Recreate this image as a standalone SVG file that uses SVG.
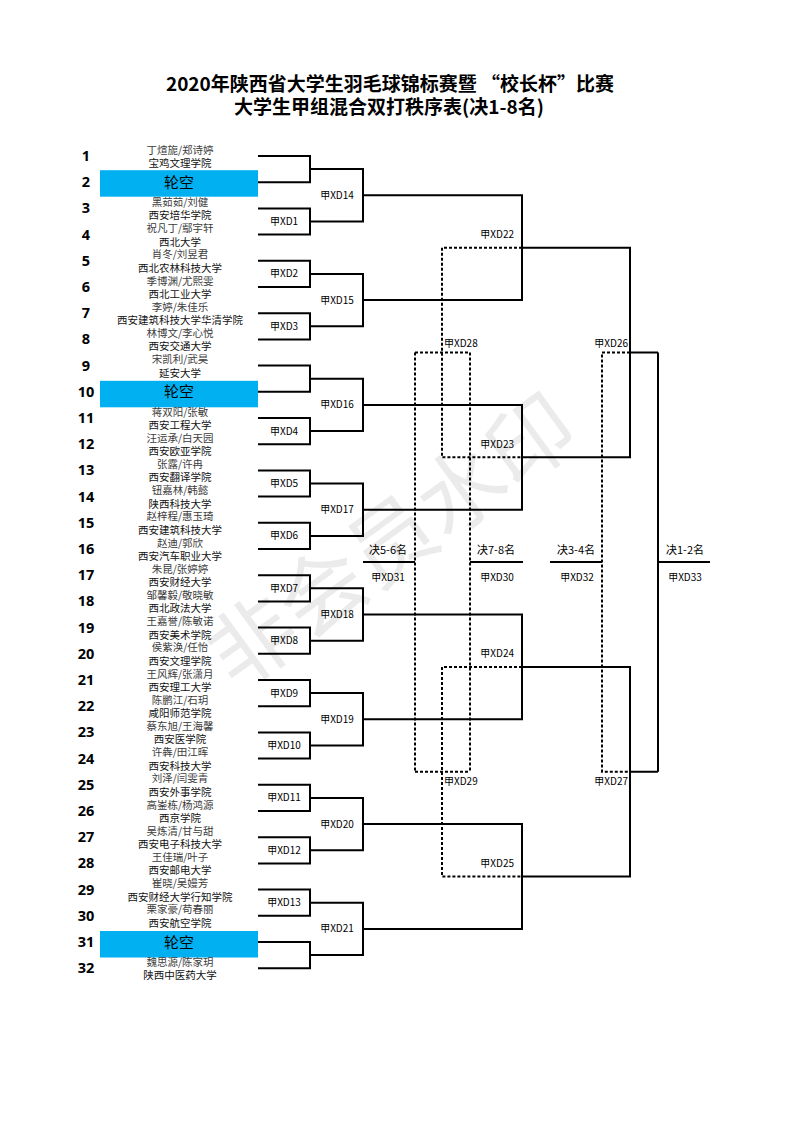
<svg xmlns="http://www.w3.org/2000/svg" width="793" height="1122" viewBox="0 0 793 1122">
<style>
text{font-family:"Noto Sans CJK SC","Noto Sans",sans-serif}
.t{font-size:19px;font-weight:700;text-anchor:middle;fill:#000}
.num{font-family:"Open Sans","Liberation Sans",sans-serif;font-size:14.5px;font-weight:700;text-anchor:middle;fill:#000}
.nm{font-size:10.5px;text-anchor:middle;fill:#3c3c3c}
.sc{font-size:10.5px;text-anchor:middle;fill:#111}
.bye{fill:#00b0f0}
.byet{font-size:15px;text-anchor:middle;fill:#000}
.lb{font-size:10px;fill:#000}
.c{text-anchor:middle}
.e{text-anchor:end}
.fin{font-size:11px;text-anchor:middle;fill:#000}
.wm{font-size:86px;fill:#ebebeb;text-anchor:middle}
.s{fill:none;stroke:#000;stroke-width:2}
.d{fill:none;stroke:#000;stroke-width:2;stroke-dasharray:3 2}
</style>
<text class="wm" transform="translate(410,566) rotate(-36)">非会员水印</text>
<g id="title">
<text class="t" x="390" y="91">2020年陕西省大学生羽毛球锦标赛暨 “校长杯”比赛</text>
<text class="t" x="389" y="114">大学生甲组混合双打秩序表(决1-8名)</text>
</g>
<g id="seeds">
<g id="seed-1"><text class="num" x="86" y="161">1</text><text class="nm" x="180" y="153.5">丁煊旎/郑诗婷</text><text class="sc" x="180" y="167">宝鸡文理学院</text></g>
<g id="seed-2"><text class="num" x="86" y="187.2">2</text><rect class="bye" x="100" y="170.2" width="158" height="26.5"/><text class="byet" x="179" y="187.7">轮空</text></g>
<g id="seed-3"><text class="num" x="86" y="213.4">3</text><text class="nm" x="180" y="205.9">黑茹茹/刘健</text><text class="sc" x="180" y="219.4">西安培华学院</text></g>
<g id="seed-4"><text class="num" x="86" y="239.6">4</text><text class="nm" x="180" y="232.1">祝凡丁/鄢宇轩</text><text class="sc" x="180" y="245.6">西北大学</text></g>
<g id="seed-5"><text class="num" x="86" y="265.8">5</text><text class="nm" x="180" y="258.3">肖冬/刘昱君</text><text class="sc" x="180" y="271.8">西北农林科技大学</text></g>
<g id="seed-6"><text class="num" x="86" y="292">6</text><text class="nm" x="180" y="284.5">季博渊/尤熙雯</text><text class="sc" x="180" y="298">西北工业大学</text></g>
<g id="seed-7"><text class="num" x="86" y="318.2">7</text><text class="nm" x="180" y="310.7">李婷/朱佳乐</text><text class="sc" x="180" y="324.2">西安建筑科技大学华清学院</text></g>
<g id="seed-8"><text class="num" x="86" y="344.4">8</text><text class="nm" x="180" y="336.9">林博文/李心悦</text><text class="sc" x="180" y="350.4">西安交通大学</text></g>
<g id="seed-9"><text class="num" x="86" y="370.6">9</text><text class="nm" x="180" y="363.1">宋凯利/武昊</text><text class="sc" x="180" y="376.6">延安大学</text></g>
<g id="seed-10"><text class="num" x="86" y="396.8">10</text><rect class="bye" x="100" y="380.8" width="158" height="26.5"/><text class="byet" x="179" y="397.3">轮空</text></g>
<g id="seed-11"><text class="num" x="86" y="423">11</text><text class="nm" x="180" y="415.5">蒋双阳/张敏</text><text class="sc" x="180" y="429">西安工程大学</text></g>
<g id="seed-12"><text class="num" x="86" y="449.2">12</text><text class="nm" x="180" y="441.7">汪运承/白天园</text><text class="sc" x="180" y="455.2">西安欧亚学院</text></g>
<g id="seed-13"><text class="num" x="86" y="475.4">13</text><text class="nm" x="180" y="467.9">张露/许冉</text><text class="sc" x="180" y="481.4">西安翻译学院</text></g>
<g id="seed-14"><text class="num" x="86" y="501.6">14</text><text class="nm" x="180" y="494.1">钮嘉林/韩懿</text><text class="sc" x="180" y="507.6">陕西科技大学</text></g>
<g id="seed-15"><text class="num" x="86" y="527.8">15</text><text class="nm" x="180" y="520.3">赵梓程/惠玉琦</text><text class="sc" x="180" y="533.8">西安建筑科技大学</text></g>
<g id="seed-16"><text class="num" x="86" y="554">16</text><text class="nm" x="180" y="546.5">赵迪/郭欣</text><text class="sc" x="180" y="560">西安汽车职业大学</text></g>
<g id="seed-17"><text class="num" x="86" y="580.2">17</text><text class="nm" x="180" y="572.7">朱昆/张婷婷</text><text class="sc" x="180" y="586.2">西安财经大学</text></g>
<g id="seed-18"><text class="num" x="86" y="606.4">18</text><text class="nm" x="180" y="598.9">邹馨毅/敬晓敏</text><text class="sc" x="180" y="612.4">西北政法大学</text></g>
<g id="seed-19"><text class="num" x="86" y="632.6">19</text><text class="nm" x="180" y="625.1">王嘉誉/陈敏诺</text><text class="sc" x="180" y="638.6">西安美术学院</text></g>
<g id="seed-20"><text class="num" x="86" y="658.8">20</text><text class="nm" x="180" y="651.3">侯紫涣/任怡</text><text class="sc" x="180" y="664.8">西安文理学院</text></g>
<g id="seed-21"><text class="num" x="86" y="685">21</text><text class="nm" x="180" y="677.5">王风辉/张潇月</text><text class="sc" x="180" y="691">西安理工大学</text></g>
<g id="seed-22"><text class="num" x="86" y="711.2">22</text><text class="nm" x="180" y="703.7">陈鹏江/石玥</text><text class="sc" x="180" y="717.2">咸阳师范学院</text></g>
<g id="seed-23"><text class="num" x="86" y="737.4">23</text><text class="nm" x="180" y="729.9">蔡东旭/王海馨</text><text class="sc" x="180" y="743.4">西安医学院</text></g>
<g id="seed-24"><text class="num" x="86" y="763.6">24</text><text class="nm" x="180" y="756.1">许犇/田江晖</text><text class="sc" x="180" y="769.6">西安科技大学</text></g>
<g id="seed-25"><text class="num" x="86" y="789.8">25</text><text class="nm" x="180" y="782.3">刘泽/闫雯青</text><text class="sc" x="180" y="795.8">西安外事学院</text></g>
<g id="seed-26"><text class="num" x="86" y="816">26</text><text class="nm" x="180" y="808.5">高崟栋/杨鸿源</text><text class="sc" x="180" y="822">西京学院</text></g>
<g id="seed-27"><text class="num" x="86" y="842.2">27</text><text class="nm" x="180" y="834.7">吴炼清/甘与甜</text><text class="sc" x="180" y="848.2">西安电子科技大学</text></g>
<g id="seed-28"><text class="num" x="86" y="868.4">28</text><text class="nm" x="180" y="860.9">王佳瑞/叶子</text><text class="sc" x="180" y="874.4">西安邮电大学</text></g>
<g id="seed-29"><text class="num" x="86" y="894.6">29</text><text class="nm" x="180" y="887.1">崔晓/吴嫚芳</text><text class="sc" x="180" y="900.6">西安财经大学行知学院</text></g>
<g id="seed-30"><text class="num" x="86" y="920.8">30</text><text class="nm" x="180" y="913.3">栗家豪/苟春丽</text><text class="sc" x="180" y="926.8">西安航空学院</text></g>
<g id="seed-31"><text class="num" x="86" y="947">31</text><rect class="bye" x="100" y="931" width="158" height="26.5"/><text class="byet" x="179" y="947.5">轮空</text></g>
<g id="seed-32"><text class="num" x="86" y="973.2">32</text><text class="nm" x="180" y="965.7">魏思源/陈家玥</text><text class="sc" x="180" y="979.2">陕西中医药大学</text></g>
</g>
<g id="connectors">
<path class="s" d="M258,156H310V182.2H258 M258,208.4H310V234.6H258 M258,260.8H310V287H258 M258,313.2H310V339.4H258 M258,365.6H310V391.8H258 M258,418H310V444.2H258 M258,470.4H310V496.6H258 M258,522.8H310V549H258 M258,575.2H310V601.4H258 M258,627.6H310V653.8H258 M258,680H310V706.2H258 M258,732.4H310V758.6H258 M258,784.8H310V811H258 M258,837.2H310V863.4H258 M258,889.6H310V915.8H258 M258,942H310V968.2H258"/>
<path class="s" d="M310,169.1H363V221.5H310 M310,273.9H363V326.3H310 M310,378.7H363V431.1H310 M310,483.5H363V535.9H310 M310,588.3H363V640.7H310 M310,693.1H363V745.5H310 M310,797.9H363V850.3H310 M310,902.7H363V955.1H310"/>
<path class="s" d="M363,195.3H522V300.1H363 M363,404.9H522V509.7H363 M363,614.5H522V719.3H363 M363,824.1H522V928.9H363"/>
<path class="s" d="M522,247.7H630V457.3H522 M522,666.9H630V876.5H522 M630,352.5H658 M630,771.7H658 M658,352.5V771.7 M658,562.1H710"/>
<path class="d" d="M522,247.7H442V457.3H522 M522,666.9H442V876.5H522 M415,352.5H470 M415,771.7H470 M415,352.5V771.7 M470,352.5V771.7 M630,352.5H602V771.7H630"/>
<path class="s" d="M363,562.1H415 M470,562.1H523 M550,562.1H602"/>
</g>
<g id="matches">
<g id="xd1"><text class="lb c" x="284" y="225">甲XD1</text></g>
<g id="xd2"><text class="lb c" x="284" y="277.4">甲XD2</text></g>
<g id="xd3"><text class="lb c" x="284" y="329.8">甲XD3</text></g>
<g id="xd4"><text class="lb c" x="284" y="434.6">甲XD4</text></g>
<g id="xd5"><text class="lb c" x="284" y="487">甲XD5</text></g>
<g id="xd6"><text class="lb c" x="284" y="539.4">甲XD6</text></g>
<g id="xd7"><text class="lb c" x="284" y="591.8">甲XD7</text></g>
<g id="xd8"><text class="lb c" x="284" y="644.2">甲XD8</text></g>
<g id="xd9"><text class="lb c" x="284" y="696.6">甲XD9</text></g>
<g id="xd10"><text class="lb c" x="284" y="749">甲XD10</text></g>
<g id="xd11"><text class="lb c" x="284" y="801.4">甲XD11</text></g>
<g id="xd12"><text class="lb c" x="284" y="853.8">甲XD12</text></g>
<g id="xd13"><text class="lb c" x="284" y="906.2">甲XD13</text></g>
<g id="xd14"><text class="lb c" x="337" y="198.8">甲XD14</text></g>
<g id="xd15"><text class="lb c" x="337" y="303.6">甲XD15</text></g>
<g id="xd16"><text class="lb c" x="337" y="408.4">甲XD16</text></g>
<g id="xd17"><text class="lb c" x="337" y="513.2">甲XD17</text></g>
<g id="xd18"><text class="lb c" x="337" y="618">甲XD18</text></g>
<g id="xd19"><text class="lb c" x="337" y="722.8">甲XD19</text></g>
<g id="xd20"><text class="lb c" x="337" y="827.6">甲XD20</text></g>
<g id="xd21"><text class="lb c" x="337" y="932.4">甲XD21</text></g>
<g id="xd22"><text class="lb e" x="514" y="238">甲XD22</text></g>
<g id="xd23"><text class="lb e" x="514" y="447.6">甲XD23</text></g>
<g id="xd24"><text class="lb e" x="514" y="657.2">甲XD24</text></g>
<g id="xd25"><text class="lb e" x="514" y="866.8">甲XD25</text></g>
<g id="xd26"><text class="lb e" x="628" y="347">甲XD26</text></g>
<g id="xd27"><text class="lb e" x="628" y="784.5">甲XD27</text></g>
<g id="xd28"><text class="lb" x="444" y="347">甲XD28</text></g>
<g id="xd29"><text class="lb" x="444" y="784.5">甲XD29</text></g>
<g id="xd31"><text class="fin" x="388" y="554">决5-6名</text><text class="lb c" x="388" y="580.5">甲XD31</text></g>
<g id="xd30"><text class="fin" x="496" y="554">决7-8名</text><text class="lb c" x="497" y="580.5">甲XD30</text></g>
<g id="xd32"><text class="fin" x="576" y="554">决3-4名</text><text class="lb c" x="577" y="580.5">甲XD32</text></g>
<g id="xd33"><text class="fin" x="685" y="554">决1-2名</text><text class="lb c" x="685" y="580.5">甲XD33</text></g>
</g>
</svg>
